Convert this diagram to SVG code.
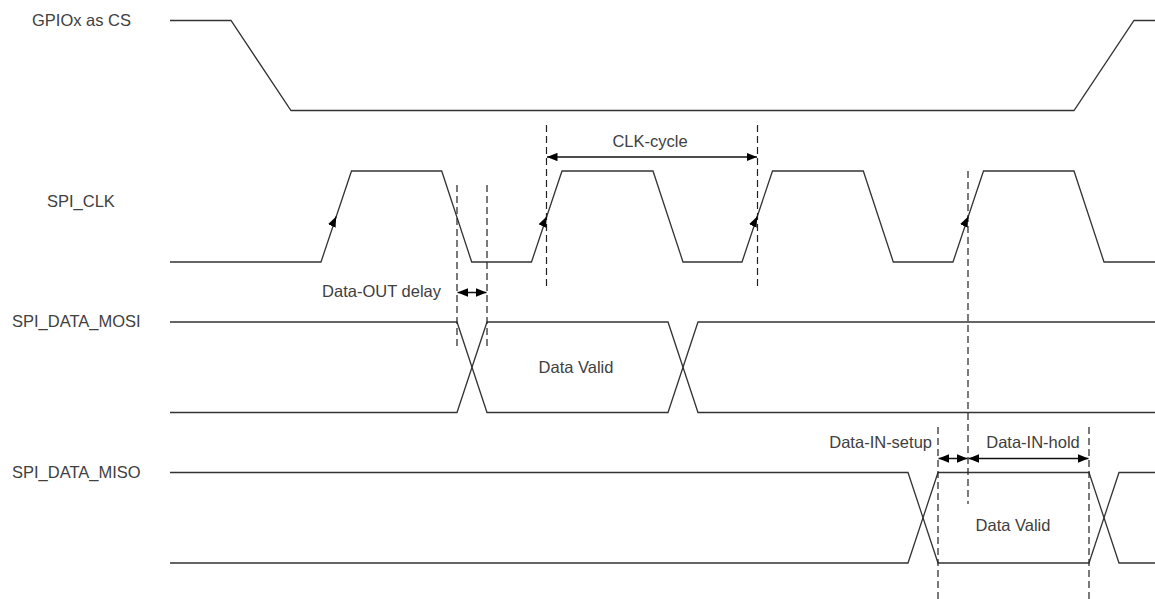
<svg xmlns="http://www.w3.org/2000/svg" width="1155" height="599" viewBox="0 0 1155 599">
<defs>
<style>
.sig{fill:none;stroke:#333;stroke-width:1.3;stroke-linejoin:miter}
.dash{fill:none;stroke:#222;stroke-width:1.2;stroke-dasharray:7 4}
.dim{fill:none;stroke:#111;stroke-width:1.5;marker-start:url(#ah);marker-end:url(#ah)}
.edge{fill:none;stroke:#111;stroke-width:1.2;marker-end:url(#ah)}
.lbl{font-family:"Liberation Sans",Arial,sans-serif;font-size:16.5px;fill:#404040}
</style>
<marker id="ah" viewBox="0 0 10 8" refX="10" refY="4" markerWidth="10.5" markerHeight="8.5" markerUnits="userSpaceOnUse" orient="auto-start-reverse">
<path d="M0,0 L10,4 L0,8 z" fill="#000"/>
</marker>
</defs>
<rect width="1155" height="599" fill="#fff"/>

<g id="cs">
<text class="lbl" x="32" y="26">GPIOx as CS</text>
<path class="sig" d="M170,20.5 H231 L291,110.5 H1074 L1134,20.5 H1155"/>
</g>

<g id="clk">
<text class="lbl" x="47" y="207">SPI_CLK</text>
<path class="sig" d="M170,262 H321 L351.5,171 H441.7 L471.7,262 H531.5 L562,171 H653 L683,262 H742 L772.5,171 H863.3 L893.3,262 H953 L983.5,171 H1074 L1104,262 H1155"/>
</g>

<g id="mosi">
<text class="lbl" x="12" y="327">SPI_DATA_MOSI</text>
<path class="sig" d="M170,322 H457 L487,412.5 H668 L698,322 H1155"/>
<path class="sig" d="M170,412.5 H457 L487,322 H668 L698,412.5 H1155"/>
<text class="lbl" x="576" y="373" text-anchor="middle">Data Valid</text>
</g>

<g id="miso">
<text class="lbl" x="12" y="478">SPI_DATA_MISO</text>
<path class="sig" d="M170,472.5 H908 L938,563 H1089 L1119,472.5 H1155"/>
<path class="sig" d="M170,563 H908 L938,472.5 H1089 L1119,563 H1155"/>
<text class="lbl" x="1013" y="531" text-anchor="middle">Data Valid</text>
</g>

<g id="connectors">
<path class="dash" d="M457,185 V347"/>
<path class="dash" d="M487,185 V347"/>
<path class="dash" d="M546.5,125 V287"/>
<path class="dash" d="M757.5,125 V287"/>
<path class="dash" d="M968,171 V504"/>
<path class="dash" d="M938,427 V599"/>
<path class="dash" d="M1089,427 V599"/>

<path class="edge" d="M335.5,218 L336.2,216.5"/>
<path class="edge" d="M546,218 L546.7,216.5"/>
<path class="edge" d="M756.5,218 L757.2,216.5"/>
<path class="edge" d="M967.5,218 L968.2,216.5"/>

<path class="dim" d="M547,157 H757"/>
<path class="dim" d="M457.5,292.5 H486.5"/>
<path class="dim" d="M938.5,458.5 H967.5"/>
<path class="dim" d="M968.5,458.5 H1088.5"/>

<text class="lbl" x="650" y="147" text-anchor="middle">CLK-cycle</text>
<text class="lbl" x="441" y="297" text-anchor="end">Data-OUT delay</text>
<text class="lbl" x="932" y="448" text-anchor="end">Data-IN-setup</text>
<text class="lbl" x="1033" y="448" text-anchor="middle">Data-IN-hold</text>
</g>
</svg>
